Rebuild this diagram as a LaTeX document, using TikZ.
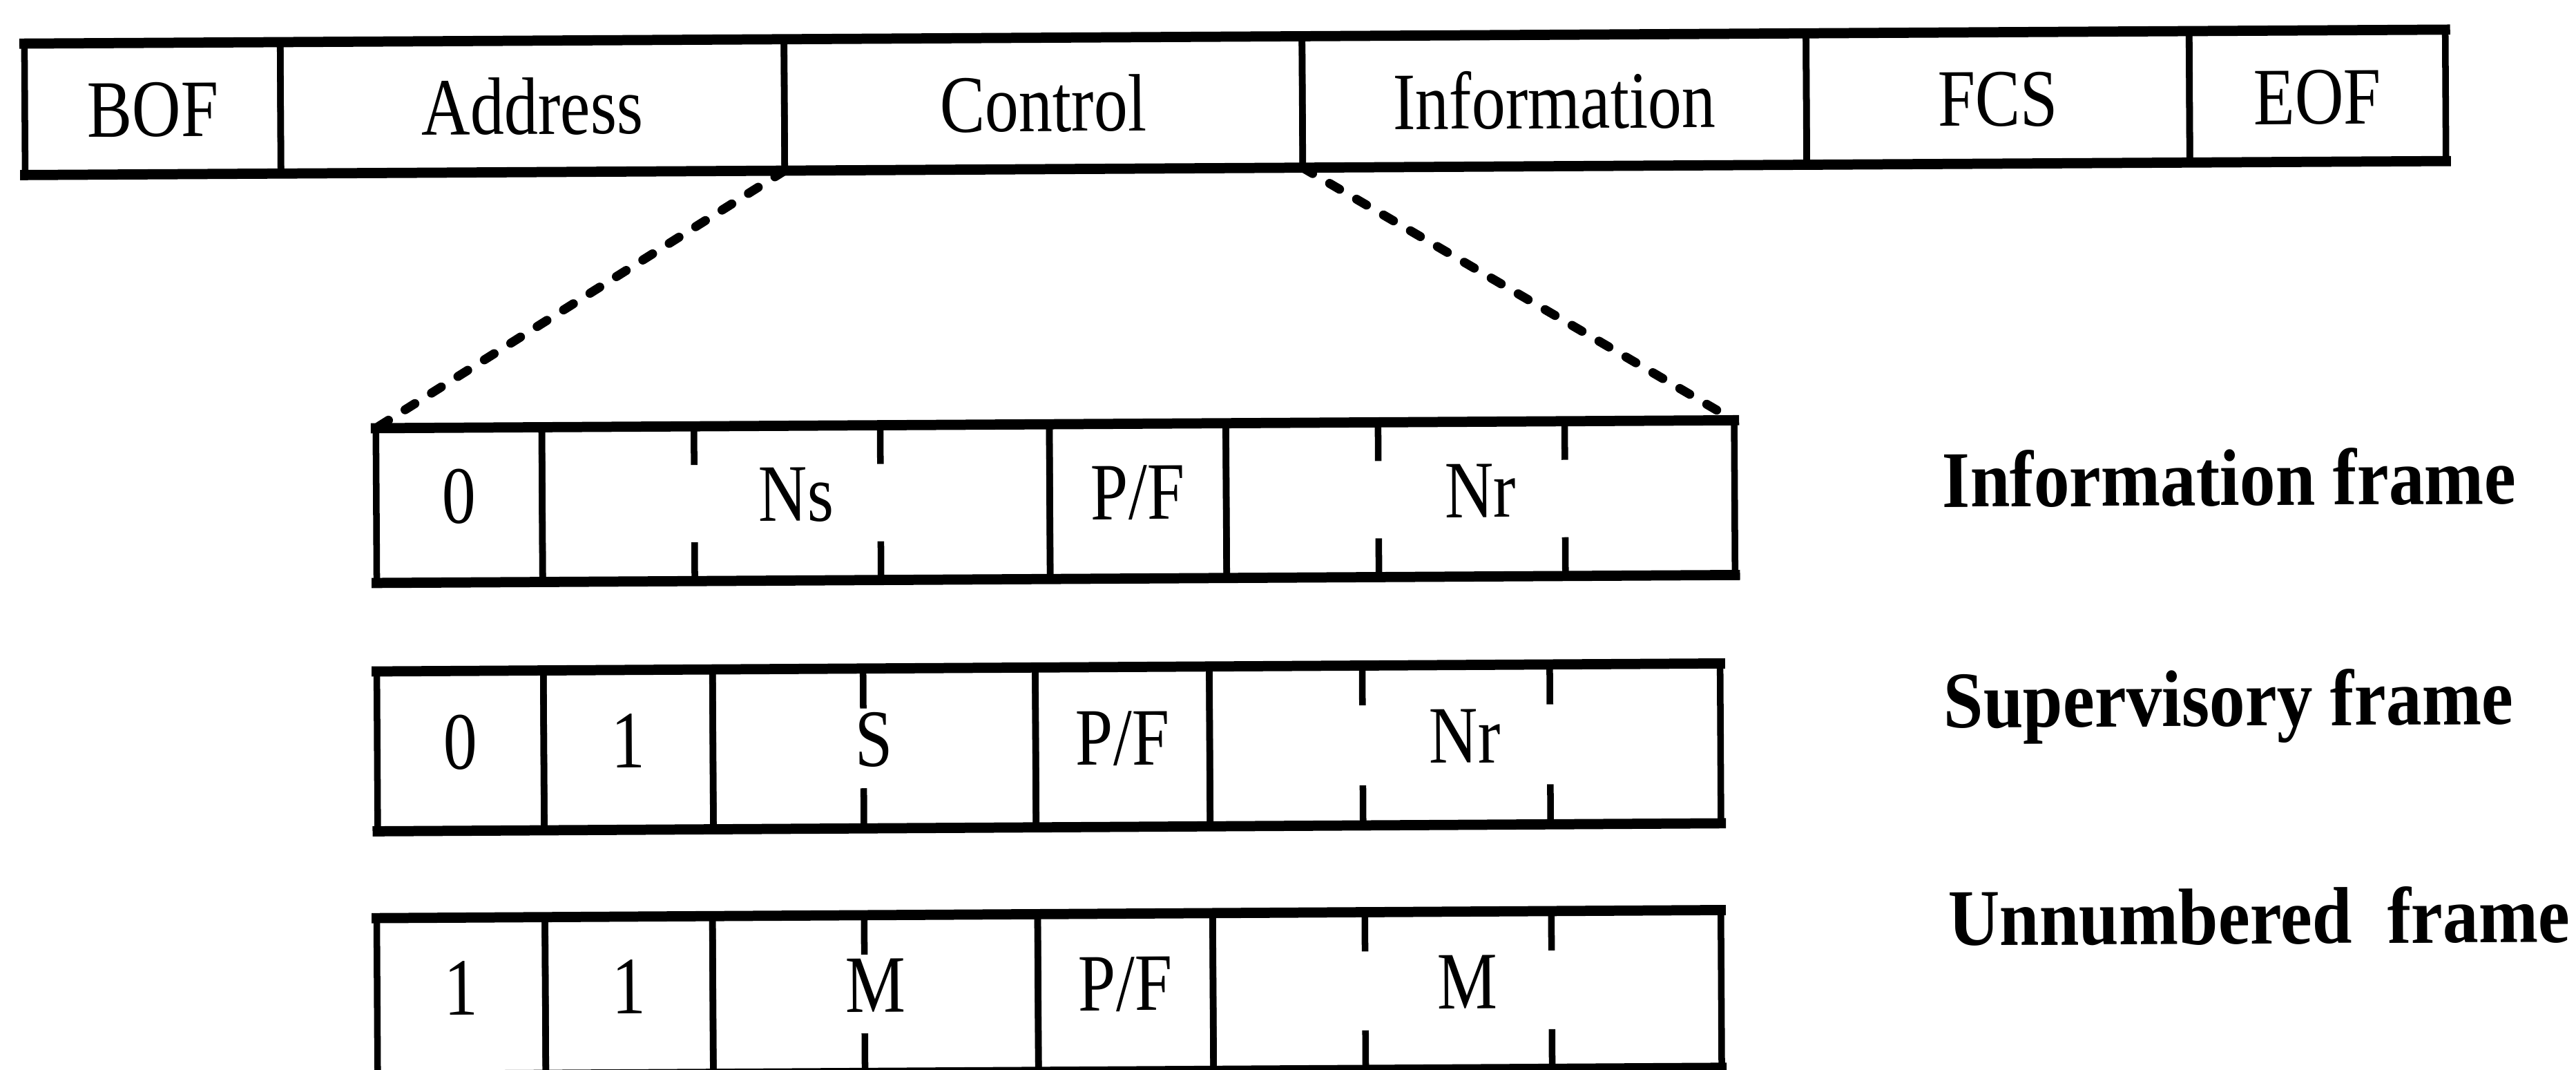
\documentclass[tikz,border=0pt]{standalone}
\usepackage{fontspec}
\setmainfont{Liberation Serif}[FakeStretch=0.83]
\newfontfamily\tagfont{Liberation Serif}[FakeStretch=0.89]
\usetikzlibrary{positioning,calc}

\begin{document}
\begin{tikzpicture}[x=0.1mm,y=-0.1mm]
  % Styles
  \tikzstyle{field}=[draw,line width=0.4mm,rectangle,inner sep=0pt,outer sep=0pt,
    font=\fontsize{14.1pt}{17pt}\selectfont,text height=3.3mm,text depth=1.1mm]
  \tikzstyle{head cell}=[field,minimum height=8mm,text height=3.4mm,text depth=0mm]
  \tikzstyle{info cell}=[field,minimum height=9.42mm]
  \tikzstyle{super cell}=[field,minimum height=9.73mm]
  \tikzstyle{unnum cell}=[field,minimum height=9.6mm]
  \tikzstyle{rule}=[line width=0.62mm,line cap=rect]
  \tikzstyle{tick}=[line width=0.4mm]
  \tikzstyle{zoom line}=[line width=0.55mm,line cap=round,dash pattern=on 0.7mm off 1.2mm]
  \tikzstyle{frame name}=[anchor=base west,inner sep=0pt,
    font=\tagfont\bfseries\fontsize{13.9pt}{17pt}\selectfont]

  \useasboundingbox (0,0) rectangle (1568,651);

  \begin{scope}[rotate around={0.33:(800,350)},transform shape]
    % The frame
    \node[head cell,minimum width=15.57mm] (bof) at (94.55,62) {BOF};
    \node[head cell,minimum width=30.67mm,right=0pt of bof] (addr) {Address};
    \node[head cell,minimum width=31.54mm,right=0pt of addr] (ctl) {Control};
    \node[head cell,minimum width=30.69mm,right=0pt of ctl] (info) {Information};
    \node[head cell,minimum width=23.33mm,right=0pt of info] (fcs) {FCS};
    \node[head cell,minimum width=15.6mm,right=0pt of fcs] (eof) {EOF};
    \draw[rule] (bof.north west) -- (eof.north east) (bof.south west) -- (eof.south east);

    % Control field, information format
    \node[info cell,minimum width=10.1mm] (i0) at (279.8,304.4) {0};
    \node[info cell,minimum width=30.9mm,right=0pt of i0] (ins) {Ns};
    \node[info cell,minimum width=10.75mm,right=0pt of ins] (ipf) {P/F};
    \node[info cell,minimum width=30.95mm,right=0pt of ipf] (inr) {Nr};
    \draw[rule] (i0.north west) -- (inr.north east) (i0.south west) -- (inr.south east);

    % supervisory format
    \node[super cell,minimum width=10.14mm] (s0) at (279.7,454) {0};
    \node[super cell,minimum width=10.3mm,right=0pt of s0] (s1) {1};
    \node[super cell,minimum width=19.65mm,right=0pt of s1] (ss) {S};
    \node[super cell,minimum width=10.6mm,right=0pt of ss] (spf) {P/F};
    \node[super cell,minimum width=31.1mm,right=0pt of spf] (snr) {Nr};
    \draw[rule] (s0.north west) -- (snr.north east) (s0.south west) -- (snr.south east);

    % unnumbered format
    \node[unnum cell,minimum width=10.24mm] (u1a) at (279.3,603.5) {1};
    \node[unnum cell,minimum width=10.2mm,right=0pt of u1a] (u1b) {1};
    \node[unnum cell,minimum width=19.8mm,right=0pt of u1b] (um) {M};
    \node[unnum cell,minimum width=10.66mm,right=0pt of um] (upf) {P/F};
    \node[unnum cell,minimum width=30.94mm,right=0pt of upf] (umr) {M};
    \draw[rule] (u1a.north west) -- (umr.north east) (u1a.south west) -- (umr.south east);

    % bit marks inside the wide fields
    \foreach \n/\f in {ins/0.3,ins/0.667,inr/0.3,inr/0.667,ss/0.467,snr/0.3,snr/0.667,
                      um/0.467,umr/0.3,umr/0.667}
    {
      \path ($(\n.north west)!\f!(\n.north east)$) coordinate (ta)
            ($(\n.south west)!\f!(\n.south east)$) coordinate (tb);
      \draw[tick] (ta) -- ($(ta)!0.25!(tb)$) (tb) -- ($(tb)!0.25!(ta)$);
    }

    % Control is blown up below
    \draw[zoom line] (ctl.south west) -- (i0.north west);
    \draw[zoom line] (ctl.south east) -- (inr.north east);

    % names of the formats
    \node[frame name] (iname) at (1182,310.8) {Information frame};
    \node[frame name] (sname) at (1182,445) {Supervisory frame};
    \node[frame name] (uname) at (1184,577.7) {Unnumbered\ \ frame};
  \end{scope}
\end{tikzpicture}
\end{document}
